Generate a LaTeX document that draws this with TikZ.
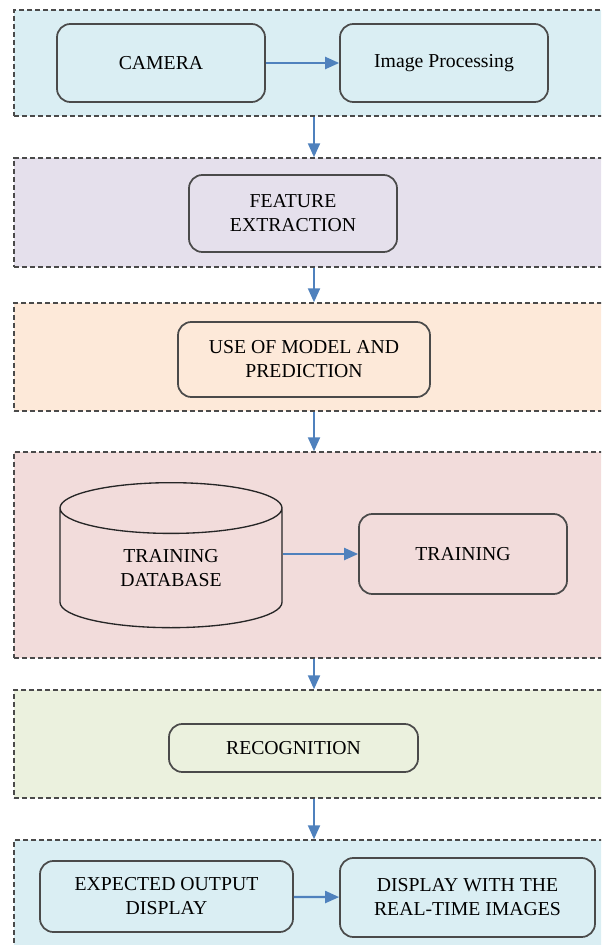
\documentclass[tikz,border=0pt]{standalone}
\usepackage{fontspec}
\setmainfont{Liberation Serif}
\usetikzlibrary{shapes.geometric,arrows.meta}

\definecolor{azulpanel}{HTML}{DAEEF3}
\definecolor{lilapanel}{HTML}{E5E0EC}
\definecolor{duraznopanel}{HTML}{FDE9D9}
\definecolor{rosapanel}{HTML}{F2DCDB}
\definecolor{verdepanel}{HTML}{EBF1DE}
\definecolor{azulflecha}{HTML}{4F81BD}
\definecolor{borde}{HTML}{4A4A4A}

\tikzset{
  panel/.style={draw=borde, dash pattern=on 3.8pt off 2.2pt, line width=1.1pt,
    minimum width=450pt, inner sep=0pt},
  caja/.style={draw=borde, line width=1.3pt, rounded corners=10pt, align=center,
    inner sep=0pt},
  flecha/.style={draw=azulflecha, line width=1.6pt,
    -{Triangle[length=10.5pt,width=9pt]}},
}

\begin{document}
\begin{tikzpicture}[x=0.75pt, y=-0.75pt, font=\fontsize{14.8}{18}\selectfont]
  \useasboundingbox (0,0) rectangle (601,945);
  \clip (0,0) rectangle (601,945);

  % Paneles de fondo (bordes discontinuos)
  \node[panel, fill=azulpanel, minimum height=79.5pt] (p1) at (314,63) {};
  \node[panel, fill=lilapanel, minimum height=81.75pt] (p2) at (314,212.5) {};
  \node[panel, fill=duraznopanel, minimum height=81pt] (p3) at (314,357) {};
  \node[panel, fill=rosapanel, minimum height=154.5pt] (p4) at (314,555) {};
  \node[panel, fill=verdepanel, minimum height=81pt] (p5) at (314,744) {};
  \node[panel, fill=azulpanel, minimum height=82.5pt] (p6) at (314,895) {};

  % Flechas entre paneles
  \draw[flecha] (p1.south) -- (p2.north);
  \draw[flecha] (p2.south) -- (p3.north);
  \draw[flecha] (p3.south) -- (p4.north);
  \draw[flecha] (p4.south) -- (p5.north);
  \draw[flecha] (p5.south) -- (p6.north);

  % Captura y procesamiento de imagen
  \node[caja, minimum width=156pt, minimum height=58.5pt] (camara) at (161,63) {CAMERA};
  \node[caja, minimum width=156pt, minimum height=58.5pt] (proceso) at (444,63) {Image Processing};
  \draw[flecha] (camara) -- (proceso);

  % Extraccion de caracteristicas
  \node[caja, minimum width=156pt, minimum height=57.75pt] (extraccion) at (293,213.5) {FEATURE\\EXTRACTION};

  % Modelo y prediccion
  \node[caja, minimum width=189pt, minimum height=56.25pt] (modelo) at (304,359.5) {USE OF MODEL AND\\PREDICTION};

  % Base de datos y entrenamiento
  \node[cylinder, shape border rotate=90, draw=black!85, line width=1pt, aspect=0.5,
    minimum width=166.5pt, minimum height=108.75pt, align=center, inner sep=0pt,
    anchor=north] (basedatos) at (171,482) {TRAINING\\DATABASE};
  \node[caja, minimum width=156pt, minimum height=60pt] (entrenamiento) at (463,554) {TRAINING};
  \draw[flecha] (basedatos.east |- entrenamiento.west) -- (entrenamiento.west);

  % Reconocimiento
  \node[caja, minimum width=186.75pt, minimum height=36pt] (reconocimiento) at (293.5,748) {RECOGNITION};

  % Salida esperada y visualizacion
  \node[caja, minimum width=189.75pt, minimum height=53.25pt] (salida) at (166.5,896.5) {EXPECTED OUTPUT\\DISPLAY};
  \node[caja, minimum width=191.25pt, minimum height=59.25pt] (pantalla) at (467.5,897.5) {DISPLAY WITH THE\\REAL-TIME IMAGES};
  \draw[flecha] (salida) -- (pantalla);
\end{tikzpicture}
\end{document}
